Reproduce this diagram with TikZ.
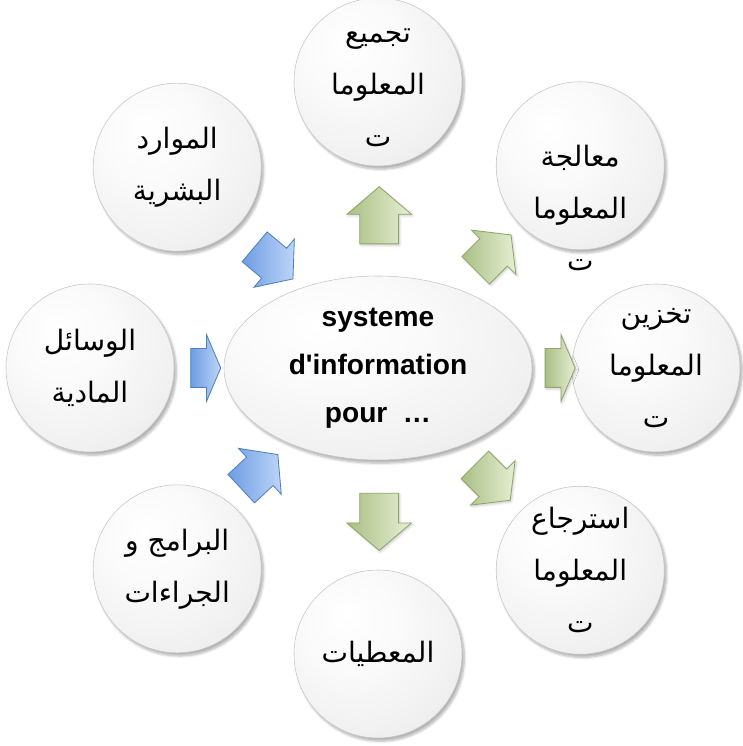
\documentclass[tikz,border=0pt]{standalone}
\usepackage{fontspec}
\setsansfont{Liberation Sans}
\newfontfamily\arabicfont[Script=Arabic]{DejaVu Sans}
\TeXXeTstate=1
\usetikzlibrary{shapes.geometric, shapes.arrows, shadows.blur, calc}

\definecolor{inlight}{HTML}{BDD5F9}
\definecolor{indark}{HTML}{6E9DE2}
\definecolor{inedge}{HTML}{4F81BD}
\definecolor{outlight}{HTML}{E6EFD3}
\definecolor{outdark}{HTML}{A9BF84}
\definecolor{outedge}{HTML}{8FA56C}

\pgfdeclareradialshading{glossy}{\pgfpoint{-10bp}{12bp}}{%
  color(0bp)=(white); color(15bp)=(gray!4); color(32bp)=(gray!12);
  color(44bp)=(gray!24); color(52bp)=(gray!38); color(60bp)=(gray!55);
  color(68bp)=(gray!68); color(75bp)=(gray!72)}

\newcommand{\ar}[1]{\beginR#1\endR}

\tikzset{
  bubble/.style={
    circle, minimum size=4.2cm, inner sep=0pt, align=center,
    draw=gray!45, line width=0.4pt, shading=glossy,
    font=\arabicfont\fontsize{20}{37}\selectfont,
    blur shadow={shadow xshift=0.6mm, shadow yshift=-0.8mm, shadow opacity=30, shadow blur steps=6}
  },
  bubbletext/.style={
    align=center, inner sep=0pt, font=\arabicfont\fontsize{20}{37}\selectfont
  },
  core/.style={
    ellipse, minimum width=7.7cm, minimum height=4.6cm, inner sep=0pt, align=center,
    draw=gray!45, line width=0.4pt, shading=glossy,
    font=\sffamily\bfseries\fontsize{20}{34}\selectfont,
    blur shadow={shadow xshift=0.6mm, shadow yshift=-0.8mm, shadow opacity=30, shadow blur steps=6}
  },
  inarrow/.style={
    single arrow, inner xsep=0pt, inner ysep=0.475cm, draw=inedge, line width=0.6pt,
    left color=indark, right color=inlight
  },
  outarrow/.style={
    single arrow, inner xsep=0pt, inner ysep=0.475cm, draw=outedge, line width=0.6pt,
    left color=outdark, right color=outlight,
    blur shadow={shadow xshift=0.3mm, shadow yshift=-0.4mm, shadow opacity=20, shadow blur steps=4}
  },
  vertarrow/.style={minimum height=1.43cm,
    single arrow head extend=0.32cm, single arrow tip angle=99},
  sidearrow/.style={minimum height=0.75cm,
    single arrow head extend=0.35cm, single arrow tip angle=134},
  diagarrow/.style={minimum height=1.25cm,
    single arrow head extend=0.3cm, single arrow tip angle=104}
}

\begin{document}
\begin{tikzpicture}
\useasboundingbox (-9.45,-9.45) rectangle (9.1,9.2);

% centre
\node[core] (sys) at (0,0) {systeme\\d\textquotesingle information\\pour\ \ …};

% outputs
\node[bubble, label={[bubbletext, yshift=-0.15cm]center:{\ar{تجميع}\\\ar{المعلوما}\\\ar{ت}}}] (collect) at (90:7.15) {};
\node[bubble, label={[bubbletext, yshift=-1.05cm]center:{\ar{معالجة}\\\ar{المعلوما}\\\ar{ت}}}] (proc) at (45:7.15) {};
\node[bubble] (store) at (0:6.95) {\ar{تخزين}\\\ar{المعلوما}\\\ar{ت}};
\node[bubble] (fetch) at (-45:7.15) {\ar{استرجاع}\\\ar{المعلوما}\\\ar{ت}};
\node[bubble] (data) at (-90:7.15) {\ar{المعطيات}};

% inputs
\node[bubble] (tools) at (180:7.2) {\ar{الوسائل}\\\ar{المادية}};
\node[bubble] (staff) at (135:7.1) {\ar{الموارد}\\\ar{البشرية}};
\node[bubble] (progs) at (-135:7.1) {\ar{البرامج و}\\\ar{الجراءات}};

% block arrows
\node[outarrow, vertarrow, rotate=90] (toCollect) at (0.03,3.61) {};
\node[outarrow, diagarrow, rotate=45] (toProc) at (2.75,2.75) {};
\node[outarrow, sidearrow] (toStore) at (4.45,0) {};
\node[outarrow, diagarrow, rotate=-45] (toFetch) at (2.73,-2.73) {};
\node[outarrow, vertarrow, rotate=-90] (toData) at (0.03,-3.64) {};
\node[inarrow, sidearrow] (fromTools) at (-4.41,0) {};
\node[inarrow, diagarrow, rotate=-40] (fromStaff) at (-2.75,2.75) {};
\node[inarrow, diagarrow, rotate=43] (fromProgs) at (-3.1,-2.72) {};
\end{tikzpicture}
\end{document}
